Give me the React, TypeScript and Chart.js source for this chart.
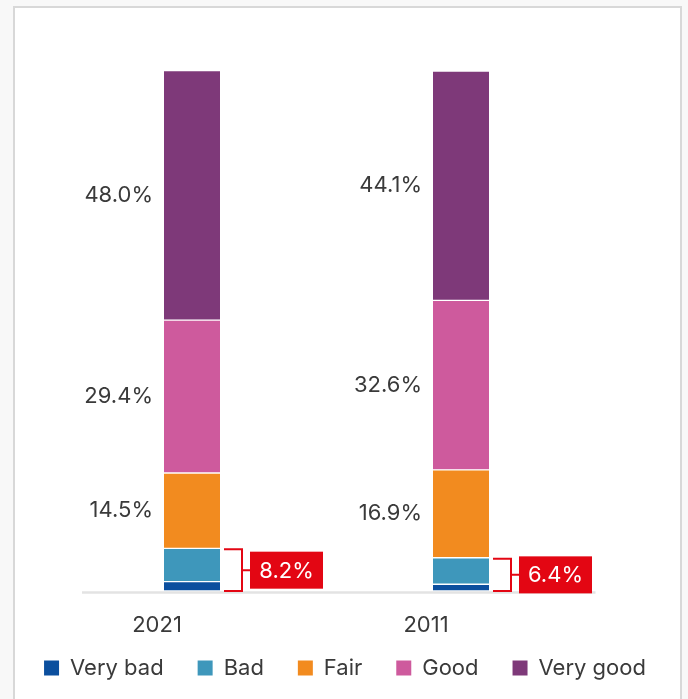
import React, { useEffect, useRef } from 'react';
import { Chart, registerables } from 'chart.js';

Chart.register(...registerables);

const categories = ['2021', '2011'];
const seriesNames = ['Very bad', 'Bad', 'Fair', 'Good', 'Very good'];
const veryBad = [1.8, 1.3];
const bad = [6.4, 5.1];
const fair = [14.5, 16.9];
const good = [29.4, 32.6];
const veryGood = [48.0, 44.1];
const seriesColors = ['#0b4f9e', '#3e97bb', '#f28b1f', '#ce5a9d', '#7e3979'];

const FONT = 'Inter, "Noto Sans", sans-serif';
const TEXT = '#3a3a3a';
const RED = '#e30613';

const baselinePlugin = {
  id: 'baseline',
  afterLayout(chart: any) {
    // let the x tick labels overflow their (compact) box without being clipped
    chart.scales.x.bottom = chart.height;
  },
  beforeDatasetsDraw(chart: any) {
    const { ctx, chartArea } = chart;
    const y0 = chart.scales.y.getPixelForValue(0);
    ctx.save();
    ctx.strokeStyle = '#e3e3e3';
    ctx.lineWidth = 2.5;
    ctx.beginPath();
    ctx.moveTo(chartArea.left + 24.5, y0 + 1.5);
    ctx.lineTo(chartArea.right, y0 + 1.5);
    ctx.stroke();
    ctx.restore();
  },
};

const annotatePlugin = {
  id: 'annotate',
  afterDatasetsDraw(chart: any) {
    const { ctx } = chart;
    ctx.save();
    ctx.font = `22px ${FONT}`;
    categories.forEach((_, i) => {
      for (let d = 2; d < 5; d++) {
        const el = chart.getDatasetMeta(d).data[i];
        const v = chart.data.datasets[d].data[i] as number;
        ctx.fillStyle = TEXT;
        ctx.textAlign = 'right';
        ctx.textBaseline = 'middle';
        ctx.fillText(v.toFixed(1) + '%', el.x - el.width / 2 - 11, (el.y + el.base) / 2);
      }
      const e0 = chart.getDatasetMeta(0).data[i];
      const e1 = chart.getDatasetMeta(1).data[i];
      const sum = (chart.data.datasets[0].data[i] as number) + (chart.data.datasets[1].data[i] as number);
      const top = e1.y + 1;
      const bottom = e0.base;
      const mid = (top + bottom) / 2;
      const x0 = e0.x + e0.width / 2 + 4;
      const x1 = x0 + 18;
      ctx.strokeStyle = RED;
      ctx.lineWidth = 2;
      ctx.beginPath();
      ctx.moveTo(x0, top);
      ctx.lineTo(x1, top);
      ctx.lineTo(x1, bottom);
      ctx.lineTo(x0, bottom);
      ctx.moveTo(x1, mid);
      ctx.lineTo(x1 + 9, mid);
      ctx.stroke();
      const bw = 73;
      const bh = 37;
      ctx.fillStyle = RED;
      ctx.fillRect(x1 + 8, mid - bh / 2, bw, bh);
      ctx.fillStyle = '#ffffff';
      ctx.textAlign = 'center';
      ctx.textBaseline = 'middle';
      ctx.fillText(sum.toFixed(1) + '%', x1 + 8 + bw / 2, mid + 1);
    });
    ctx.restore();
  },
};

export default function App() {
  const canvasRef = useRef<HTMLCanvasElement | null>(null);

  useEffect(() => {
    if (!canvasRef.current) return;
    const values = [veryBad, bad, fair, good, veryGood];
    const chart = new Chart(canvasRef.current, {
      type: 'bar',
      data: {
        labels: categories,
        datasets: seriesNames.map((name, k) => ({
          label: name,
          data: values[k],
          backgroundColor: seriesColors[k],
          borderColor: '#ffffff',
          borderWidth: { top: 1, bottom: 1, left: 0, right: 0 },
          borderSkipped: false,
          barThickness: 56,
        })),
      },
      options: {
        animation: false,
        responsive: false,
        maintainAspectRatio: false,
        layout: { padding: { left: 2, right: 0, top: 71, bottom: 10 } },
        scales: {
          x: {
            stacked: true,
            grid: { display: false, drawTicks: false },
            border: { display: false },
            ticks: {
              color: TEXT,
              font: { family: FONT, size: 22 },
              padding: 21,
              labelOffset: -35,
            },
            afterFit: (s: any) => {
              s.height = 32;
            },
          },
          y: {
            stacked: true,
            min: 0,
            max: 100,
            grid: { display: false, drawTicks: false },
            border: { display: false },
            ticks: { display: false },
            afterFit: (s: any) => {
              s.width = 55.5;
            },
          },
          y2: {
            position: 'right',
            min: 0,
            max: 100,
            grid: { display: false, drawTicks: false },
            border: { display: false },
            ticks: { display: false },
            afterFit: (s: any) => {
              s.width = 92.5;
            },
          },
        },
        plugins: {
          tooltip: { enabled: false },
          legend: {
            position: 'bottom',
            labels: {
              color: TEXT,
              font: { family: FONT, size: 22 },
              boxWidth: 15,
              boxHeight: 15,
              padding: 34,
              generateLabels: (c: any) =>
                (Chart.defaults.plugins.legend.labels as any)
                  .generateLabels(c)
                  .map((l: any) => ({ ...l, lineWidth: 0 })),
            },
          },
        },
      },
      plugins: [baselinePlugin, annotatePlugin],
    } as any);
    return () => chart.destroy();
  }, []);

  return (
    <div style={{ position: 'fixed', left: 0, top: 0, width: 688, height: 699, background: '#f8f8f8', overflow: 'hidden' }}>
      <div
        style={{
          position: 'absolute',
          left: 13,
          top: 6,
          width: 669,
          height: 760,
          boxSizing: 'border-box',
          border: '2px solid #d8d8d8',
          background: '#ffffff',
        }}
      />
      <canvas ref={canvasRef} width={688} height={699} style={{ position: 'absolute', left: 0, top: 0, width: 688, height: 699 }} />
    </div>
  );
}
